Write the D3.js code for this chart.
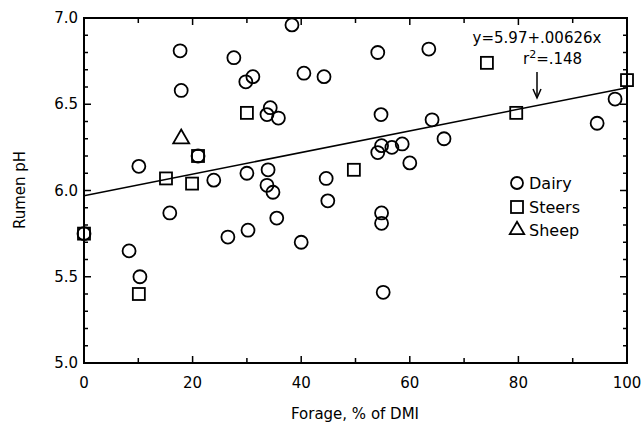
<!DOCTYPE html>
<html><head><meta charset="utf-8">
<script src="https://cdn.jsdelivr.net/npm/d3@7"></script>
<style>body{margin:0;background:#fff}svg{display:block}text{font-family:"DejaVu Sans","Liberation Sans",sans-serif;fill:#000}</style>
</head><body><svg id="c" width="643" height="436"></svg>
<script>
const dairyX = [17.7,17.9,27.6,29.8,31.1,38.3,40.5,44.2,34.3,33.7,35.8,10.1,23.9,30.0,33.9,33.7,34.8,44.6,44.9,15.8,26.5,30.2,35.5,40.0,8.3,10.3,0,54.1,63.5,54.7,64.1,66.3,54.1,54.8,56.7,58.6,60.0,94.5,97.8,54.8,54.8,55.1,21.0];
const dairyY = [6.81,6.58,6.77,6.63,6.66,6.96,6.68,6.66,6.48,6.44,6.42,6.14,6.06,6.10,6.12,6.03,5.99,6.07,5.94,5.87,5.73,5.77,5.84,5.70,5.65,5.50,5.75,6.80,6.82,6.44,6.41,6.30,6.22,6.26,6.25,6.27,6.16,6.39,6.53,5.87,5.81,5.41,6.20];
const steersX = [0,15.1,19.9,21.0,30.0,10.1,49.7,74.2,79.6,100];
const steersY = [5.75,6.07,6.04,6.20,6.45,5.40,6.12,6.74,6.45,6.64];
const sheepX = [17.9];
const sheepY = [6.30];
const xTicks = [0,20,40,60,80,100];
const yTicks = [5.0,5.5,6.0,6.5,7.0];
const intercept = 5.97, slope = 0.00626;
const legendLabels = ["Dairy","Steers","Sheep"];

const svg = d3.select("#c");
const x = d3.scaleLinear().domain([0,100]).range([84,627]);
const y = d3.scaleLinear().domain([5,7]).range([363,18]);
const g = svg.append("g");

// frame
g.append("rect").attr("x",x(0)).attr("y",y(7)).attr("width",x(100)-x(0)).attr("height",y(5)-y(7))
 .attr("fill","none").attr("stroke","#000").attr("stroke-width",2);

// ticks
const xt = d3.range(0,101,10), yt = d3.range(0,21).map(i=>5+i*0.1);
xt.forEach(v=>{
  const L = v%20===0?7:5;
  g.append("line").attr("x1",x(v)).attr("x2",x(v)).attr("y1",y(5)).attr("y2",y(5)-L).attr("stroke","#000").attr("stroke-width",1.5);
  g.append("line").attr("x1",x(v)).attr("x2",x(v)).attr("y1",y(7)).attr("y2",y(7)+L).attr("stroke","#000").attr("stroke-width",1.5);
});
yt.forEach(v=>{
  const L = Math.abs(v*2-Math.round(v*2))<1e-6?7:4;
  g.append("line").attr("x1",x(0)).attr("x2",x(0)+L).attr("y1",y(v)).attr("y2",y(v)).attr("stroke","#000").attr("stroke-width",1.5);
  g.append("line").attr("x1",x(100)).attr("x2",x(100)-L).attr("y1",y(v)).attr("y2",y(v)).attr("stroke","#000").attr("stroke-width",1.5);
});
xTicks.forEach(v=>g.append("text").attr("x",x(v)).attr("y",388).attr("text-anchor","middle").attr("font-size",15).text(v));
yTicks.forEach(v=>g.append("text").attr("x",78).attr("y",y(v)+5).attr("text-anchor","end").attr("font-size",15).text(v.toFixed(1)));

// axis titles
g.append("text").attr("x",355).attr("y",419).attr("text-anchor","middle").attr("font-size",15).text("Forage, % of DMI");
g.append("text").attr("transform","translate(25,190) rotate(-90)").attr("text-anchor","middle").attr("font-size",15).text("Rumen pH");

// regression line
g.append("line").attr("x1",x(0)).attr("y1",y(intercept)).attr("x2",x(100)).attr("y2",y(intercept+slope*100))
 .attr("stroke","#000").attr("stroke-width",1.5);

const sw=1.8, r=6.5, s=12;
g.selectAll(".d").data(dairyX.map((v,i)=>[v,dairyY[i]])).enter().append("circle")
 .attr("cx",d=>x(d[0])).attr("cy",d=>y(d[1])).attr("r",r).attr("fill","none").attr("stroke","#000").attr("stroke-width",sw);
g.selectAll(".s").data(steersX.map((v,i)=>[v,steersY[i]])).enter().append("rect")
 .attr("x",d=>x(d[0])-s/2).attr("y",d=>y(d[1])-s/2).attr("width",s).attr("height",s).attr("fill","none").attr("stroke","#000").attr("stroke-width",sw);
const tri = d3.symbol().type(d3.symbolTriangle).size(110);
g.selectAll(".t").data(sheepX.map((v,i)=>[v,sheepY[i]])).enter().append("path")
 .attr("d",tri).attr("transform",d=>`translate(${x(d[0])},${y(d[1])})`).attr("fill","none").attr("stroke","#000").attr("stroke-width",sw);

// annotation
g.append("text").attr("x",537).attr("y",43).attr("text-anchor","middle").attr("font-size",15).text("y=5.97+.00626x");
const r2 = g.append("text").attr("x",523).attr("y",64).attr("font-size",15);
r2.append("tspan").text("r");
r2.append("tspan").attr("dy",-6).attr("font-size",11).text("2");
r2.append("tspan").attr("dy",6).text("=.148");
g.append("line").attr("x1",537).attr("x2",537).attr("y1",72).attr("y2",96).attr("stroke","#000").attr("stroke-width",1.5);
g.append("path").attr("d","M533,89 L537,98 L541,89").attr("fill","none").attr("stroke","#000").attr("stroke-width",1.5);

// legend
const ly=[183,207,230];
g.append("circle").attr("cx",517).attr("cy",ly[0]).attr("r",6).attr("fill","none").attr("stroke","#000").attr("stroke-width",sw);
g.append("rect").attr("x",511).attr("y",ly[1]-6).attr("width",12).attr("height",12).attr("fill","none").attr("stroke","#000").attr("stroke-width",sw);
g.append("path").attr("d",d3.symbol().type(d3.symbolTriangle).size(90)).attr("transform",`translate(517,${ly[2]})`).attr("fill","none").attr("stroke","#000").attr("stroke-width",sw);
legendLabels.forEach((t,i)=>g.append("text").attr("x",529).attr("y",ly[i]+6).attr("font-size",16).text(t));
</script></body></html>
